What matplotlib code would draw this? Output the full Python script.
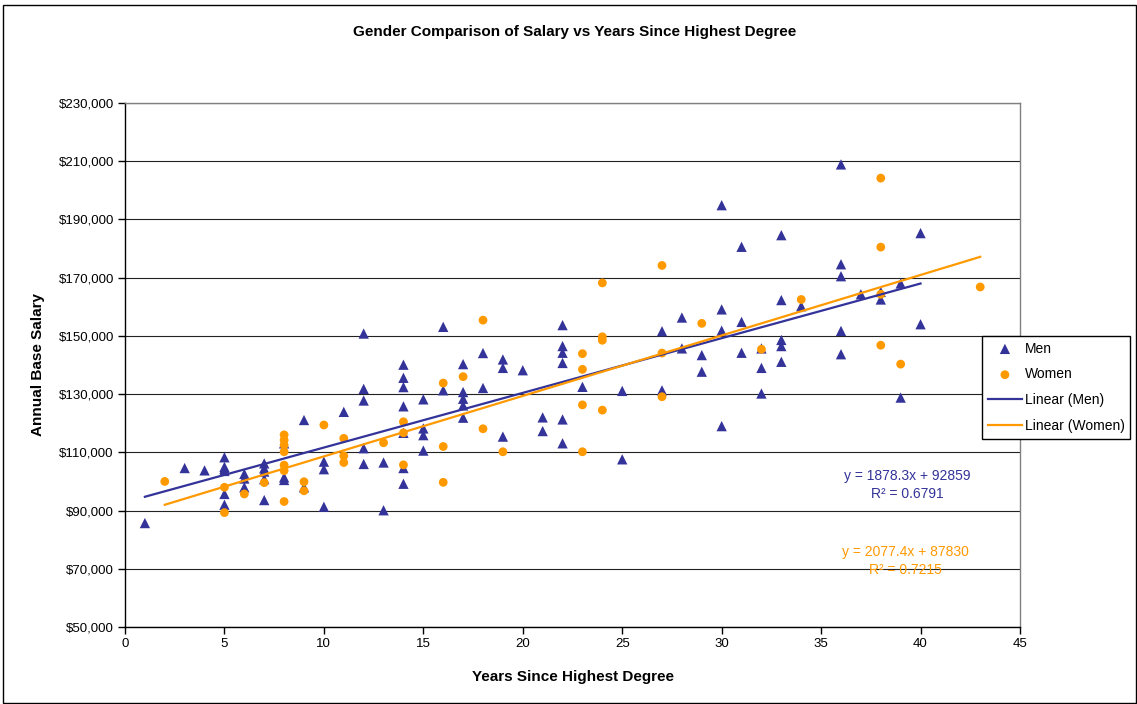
import matplotlib
matplotlib.use('Agg')
import matplotlib.pyplot as plt
from matplotlib.patches import Rectangle
from matplotlib.ticker import FuncFormatter, MultipleLocator
import numpy as np

plt.rcParams['font.family'] = ['Liberation Sans', 'DejaVu Sans']

# ---------------------------- data ----------------------------
men_years = [1, 3, 4,
             5, 5, 5, 5, 5, 5,
             6, 6, 6,
             7, 7, 7, 7, 7,
             8, 8, 8,
             9, 9,
             10, 10, 10,
             11,
             12, 12, 12, 12, 12,
             13, 13,
             14, 14, 14, 14, 14, 14, 14,
             15, 15, 15, 15,
             16, 16,
             17, 17, 17, 17, 17,
             18, 18,
             19, 19, 19,
             20,
             21, 21,
             22, 22, 22, 22, 22, 22,
             23,
             25, 25,
             27, 27,
             28, 28,
             29, 29,
             30, 30, 30, 30,
             31, 31, 31,
             32, 32, 32,
             33, 33, 33, 33, 33,
             34,
             36, 36, 36, 36, 36,
             37,
             38, 38,
             39, 39,
             40, 40]
men_salary = [85.7, 104.6, 103.8,
              108.3, 105.0, 103.6, 104.3, 95.7, 92.0,
              102.6, 101.0, 98.0,
              106.2, 104.5, 103.4, 100.8, 93.6,
              113.1, 101.4, 100.5,
              121.1, 98.0,
              106.8, 104.2, 91.3,
              123.9,
              150.8, 131.8, 127.8, 111.4, 106.0,
              106.5, 90.1,
              140.1, 135.6, 132.4, 125.8, 116.7, 104.6, 99.2,
              128.2, 118.2, 115.9, 110.6,
              153.1, 131.3,
              140.3, 130.7, 128.4, 126.1, 121.9,
              144.1, 132.1,
              141.9, 139.0, 115.4,
              138.2,
              122.0, 117.3,
              153.7, 146.5, 144.2, 140.7, 121.3, 113.1,
              132.5,
              131.1, 107.6,
              151.6, 131.3,
              156.3, 145.7,
              143.4, 137.7,
              194.9, 159.1, 151.8, 119.0,
              180.6, 154.8, 144.2,
              145.7, 139.0, 130.2,
              184.6, 162.3, 148.6, 146.5, 141.1,
              160.2,
              208.9, 174.6, 170.5, 151.7, 143.7,
              164.3,
              165.1, 162.5,
              168.0, 128.8,
              185.3, 154.0]

women_years = [2,
               5, 5,
               6,
               7,
               8, 8, 8, 8, 8, 8, 8,
               9, 9,
               10,
               11, 11, 11,
               13,
               14, 14, 14,
               16, 16, 16,
               17,
               18, 18,
               19,
               23, 23, 23, 23,
               24, 24, 24, 24,
               27, 27, 27,
               29,
               32,
               34,
               38, 38, 38, 38,
               39,
               43]
women_salary = [100.0,
                98.0, 89.3,
                95.7,
                99.6,
                116.0, 114.2, 112.5, 110.2, 105.6, 103.7, 93.1,
                99.9, 96.8,
                119.4,
                114.8, 108.8, 106.5,
                113.3,
                120.5, 116.7, 105.7,
                133.8, 112.0, 99.7,
                136.0,
                155.4, 118.1,
                110.2,
                143.9, 138.5, 126.3, 110.2,
                168.2, 149.7, 148.5, 124.5,
                174.2, 144.1, 129.1,
                154.3,
                145.4,
                162.5,
                204.2, 180.5, 164.3, 146.8,
                140.3,
                166.8]

# trendline coefficients as printed on the chart (slope, intercept, R^2)
men_fit = (1878.3, 92859, 0.6791)
women_fit = (2077.4, 87830, 0.7215)

y_ticks = [50000, 70000, 90000, 110000, 130000, 150000, 170000, 190000, 210000, 230000]

NAVY = '#333399'
ORANGE = '#FF9900'

# ---------------------------- figure ----------------------------
fig = plt.figure(figsize=(11.37, 7.04), dpi=100)
W, H = 1137.0, 704.0

# outer chart border
fig.patches.append(Rectangle((3 / W, 1 / H), 1133 / W, 698 / H, transform=fig.transFigure,
                             fill=False, edgecolor='black', linewidth=1.0))

ax = fig.add_axes([125 / W, 1 - 627 / H, 895 / W, 524 / H])

mx = np.array(men_years)
my = np.array(men_salary) * 1000
wx = np.array(women_years)
wy = np.array(women_salary) * 1000

ax.scatter(mx, my, marker='^', s=55, color=NAVY, edgecolors='none', zorder=3, label='Men')
ax.scatter(wx, wy, marker='o', s=40, color=ORANGE, edgecolors='none', zorder=3, label='Women')

xm = np.array([mx.min(), mx.max()])
xw = np.array([wx.min(), wx.max()])
ax.plot(xm, men_fit[0] * xm + men_fit[1], color=NAVY, lw=1.6, zorder=4, label='Linear (Men)')
ax.plot(xw, women_fit[0] * xw + women_fit[1], color=ORANGE, lw=1.6, zorder=4, label='Linear (Women)')

ax.set_xlim(0, 45)
ax.set_ylim(y_ticks[0], y_ticks[-1])
ax.xaxis.set_major_locator(MultipleLocator(5))
ax.set_yticks(y_ticks)
ax.yaxis.set_major_formatter(FuncFormatter(lambda v, p: '${:,.0f}'.format(v)))
ax.grid(axis='y', color='#222222', lw=0.8, zorder=0)
ax.set_axisbelow(True)

for s in ['top', 'right']:
    ax.spines[s].set_color('#808080')
    ax.spines[s].set_linewidth(1.0)
for s in ['left', 'bottom']:
    ax.spines[s].set_color('black')
    ax.spines[s].set_linewidth(1.0)

ax.tick_params(axis='both', direction='out', length=5, width=1, color='black',
               labelsize=9.5, pad=3)

ax.set_xlabel('Years Since Highest Degree', fontsize=11, fontweight='bold', labelpad=14)
ax.set_ylabel('Annual Base Salary', fontsize=11, fontweight='bold', labelpad=10)

fig.text(575 / W, 1 - 32 / H, 'Gender Comparison of Salary vs Years Since Highest Degree',
         ha='center', va='center', fontsize=11, fontweight='bold')

# trendline equations
ax.text(0.8737, 0.271, 'y = {}x + {}\nR² = {}'.format(men_fit[0], men_fit[1], men_fit[2]),
        transform=ax.transAxes, ha='center', va='center', color=NAVY, fontsize=10,
        linespacing=1.3, zorder=5)
ax.text(0.8715, 0.126, 'y = {}x + {}\nR² = {}'.format(women_fit[0], women_fit[1], women_fit[2]),
        transform=ax.transAxes, ha='center', va='center', color=ORANGE, fontsize=10,
        linespacing=1.45, zorder=5)

leg = fig.legend(loc='upper left', bbox_to_anchor=(982 / W, 1 - 336 / H), borderaxespad=0,
                 fancybox=False, edgecolor='black', framealpha=1, fontsize=10,
                 handlelength=2.5, handletextpad=0.2, labelspacing=0.85,
                 borderpad=0.4, scatterpoints=1)
leg.get_frame().set_linewidth(1.0)

fig.savefig('out.png', dpi=100)
